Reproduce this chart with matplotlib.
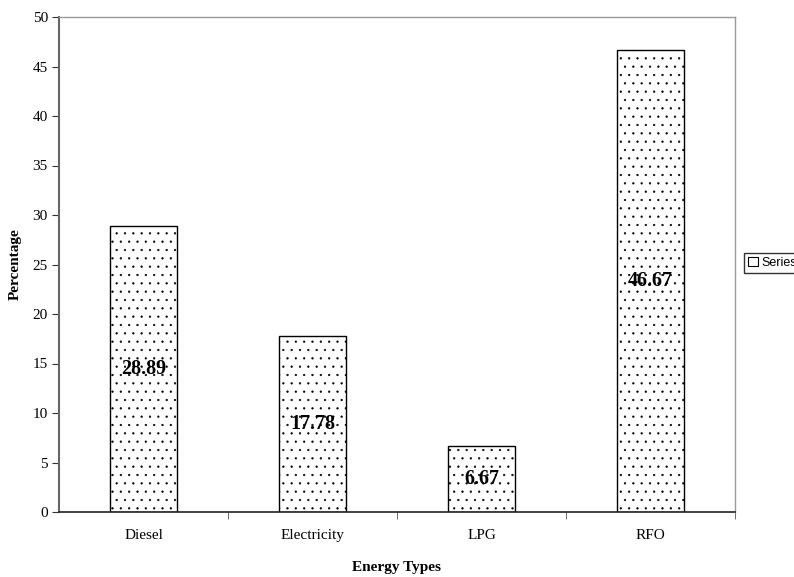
import matplotlib
matplotlib.use("Agg")
import matplotlib.pyplot as plt
from matplotlib.patches import Patch

categories = ["Diesel", "Electricity", "LPG", "RFO"]
values = [28.89, 17.78, 6.67, 46.67]
value_labels = ["28.89", "17.78", "6.67", "46.67"]
yticks = [0, 5, 10, 15, 20, 25, 30, 35, 40, 45, 50]
legend_label = "Series1"

plt.rcParams['hatch.linewidth'] = 0.4
plt.rcParams['hatch.color'] = '#555555'

fig = plt.figure(figsize=(7.94, 5.77), dpi=100)
ax = fig.add_axes([59/794, 1-512/577, (735-59)/794, (512-17)/577])

x = list(range(len(categories)))
bars = ax.bar(x, values, width=0.40, color='white', edgecolor='black',
              linewidth=1.0, hatch='..', zorder=2)

for xi, v, lab in zip(x, values, value_labels):
    ax.text(xi, v/2, lab, ha='center', va='center', fontsize=14.5,
            fontweight='bold', family='Liberation Serif', zorder=3)

ax.set_xlim(-0.5, len(categories)-0.5)
ax.set_ylim(0, 50)
ax.set_yticks(yticks)
ax.set_yticklabels([str(t) for t in yticks], family='Liberation Serif', fontsize=11)
ax.set_xticks(x)
ax.set_xticklabels(categories, family='Liberation Serif', fontsize=11)
ax.tick_params(axis='x', length=0, pad=12)
ax.set_xticks([0.5, 1.5, 2.5, 3.5], minor=True)
ax.tick_params(axis='x', which='minor', length=5, direction='out', color='#555555')
ax.tick_params(axis='y', length=5, direction='out', color='#333333', pad=3)

for s in ['top', 'right']:
    ax.spines[s].set_color('#999999')
    ax.spines[s].set_linewidth(1.0)
ax.spines['left'].set_color('#666666')
ax.spines['left'].set_linewidth(1.5)
ax.spines['bottom'].set_color('#222222')
ax.spines['bottom'].set_linewidth(1.2)

ax.set_ylabel("Percentage", family='Liberation Serif', fontweight='bold', fontsize=11, labelpad=8)
ax.set_xlabel("Energy Types", family='Liberation Serif', fontweight='bold', fontsize=11, labelpad=14)

handle = Patch(facecolor='white', edgecolor='black', linewidth=0.8)
leg = fig.legend([handle], [legend_label], loc='center left',
                 bbox_to_anchor=(744/794, 1-263/577), frameon=True,
                 fancybox=False, edgecolor='black',
                 prop={'family': 'Liberation Sans', 'size': 9},
                 handlelength=0.8, handleheight=0.8, handletextpad=0.3,
                 borderpad=0.3, borderaxespad=0)
leg.get_frame().set_linewidth(1.0)

fig.savefig("out.png", dpi=100)
